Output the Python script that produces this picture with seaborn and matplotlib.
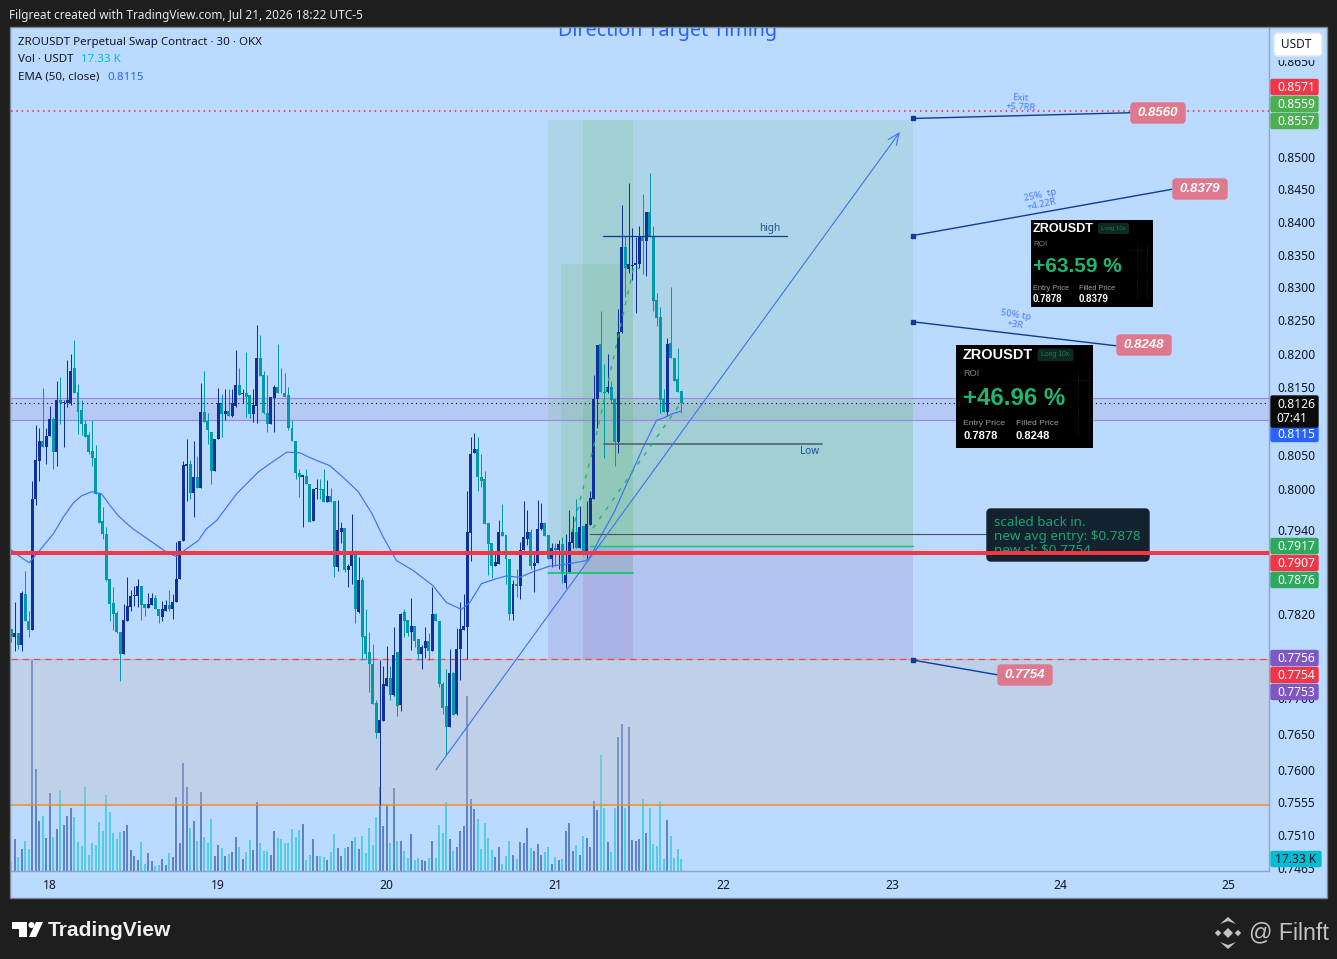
#Import libraries
import numpy as np
import pandas as pd
import matplotlib
matplotlib.use("Agg")
import matplotlib.pyplot as plt
import seaborn as sns
from matplotlib.patches import Rectangle, FancyBboxPatch, Polygon, Circle

#Candles, 30 min bars. Bar 0 is the start of day 18.
opens = [
    .7798,.7787,.7792,.7776,.7848,.7810,.7797,.7985,.8041,.8071,
    .8062,.8078,.8103,.8054,.8131,.8127,.8126,.8126,.8178,.8143,
    .8116,.8096,.8079,.8055,.8046,.7994,.7953,.7935,.7870,.7835,
    .7821,.7794,.7762,.7810,.7830,.7845,.7845,.7859,.7834,.7828,
    .7833,.7842,.7827,.7815,.7824,.7832,.7826,.7836,.7869,.7924,
    .8033,.8037,.7994,.8017,.8001,.8113,.8100,.8083,.8027,.8074,
    .8126,.8110,.8115,.8107,.8122,.8153,.8140,.8142,.8139,.8110,
    .8122,.8193,.8169,.8112,.8096,.8134,.8151,.8142,.8141,.8138,
    .8090,.8071,.8024,.8018,.8019,.8008,.7954,.8000,.8000,.8000,
    .7981,.7990,.7982,.7887,.7938,.7943,.7882,.7888,.7905,.7823,
    .7868,.7788,.7765,.7748,.7693,.7651,.7668,.7718,.7729,.7704,
    .7765,.7691,.7822,.7811,.7794,.7803,.7784,.7763,.7771,.7781,
    .7767,.7819,.7810,.7720,.7689,.7660,.7736,.7678,.7769,.7797,
    .7801,.7936,.8053,.8058,.8018,.8014,.7950,.7921,.7889,.7891,
    .7938,.7933,.7899,.7819,.7863,.7859,.7911,.7928,.7938,.7889,
    .7892,.7942,.7950,.7933,.7899,.7914,.7912,.7920,.7864,.7879,
    .7921,.7938,.7914,.7946,.7904,.7948,.7986,.8132,.8215,.8143,
    .8143,.8150,.8132,.8069,.8232,.8361,.8328,.8333,.8334,.8336,
    .8376,.8371,.8415,.8376,.8281,.8256,.8132,.8114,.8216,.8193,
    .8162,.8144]
highs = [
    .7798,.7837,.7792,.7852,.7881,.7824,.8011,.8094,.8089,.8149,
    .8089,.8122,.8106,.8159,.8165,.8131,.8190,.8199,.8220,.8155,
    .8131,.8101,.8084,.8102,.8064,.7994,.7974,.7945,.7870,.7858,
    .7824,.7794,.7834,.7872,.7854,.7860,.7870,.7859,.7834,.7850,
    .7850,.7846,.7827,.7838,.7840,.7854,.7848,.7923,.7925,.8041,
    .8073,.8042,.8071,.8049,.8157,.8175,.8112,.8083,.8074,.8149,
    .8140,.8148,.8148,.8148,.8205,.8178,.8148,.8202,.8139,.8147,
    .8243,.8228,.8175,.8169,.8135,.8154,.8214,.8178,.8172,.8150,
    .8101,.8071,.8029,.8021,.8029,.8008,.8000,.8014,.8015,.8030,
    .8013,.8001,.7982,.7984,.7952,.7943,.7891,.7964,.7912,.7902,
    .7873,.7827,.7794,.7777,.7698,.7754,.7746,.7774,.7746,.7801,
    .7765,.7821,.7827,.7811,.7842,.7803,.7784,.7775,.7801,.7793,
    .7858,.7821,.7810,.7723,.7741,.7769,.7737,.7800,.7837,.7848,
    .7997,.8076,.8082,.8076,.8052,.8027,.7950,.7921,.7907,.7955,
    .7978,.7933,.7899,.7868,.7884,.7923,.7982,.7970,.7942,.7906,
    .7984,.7979,.7952,.7933,.7921,.7921,.7926,.7930,.7935,.7969,
    .7960,.7986,.7975,.7946,.7982,.7997,.8169,.8213,.8265,.8185,
    .8199,.8159,.8132,.8268,.8426,.8379,.8460,.8390,.8376,.8393,
    .8442,.8415,.8475,.8394,.8291,.8271,.8147,.8223,.8300,.8193,
    .8208,.8144]
lows = [
    .7779,.7767,.7770,.7767,.7810,.7787,.7797,.7977,.8012,.8062,
    .8037,.8078,.8030,.8033,.8096,.8062,.8121,.8123,.8142,.8081,
    .8079,.8077,.8052,.8033,.7992,.7950,.7928,.7867,.7809,.7796,
    .7793,.7725,.7762,.7810,.7824,.7831,.7829,.7811,.7817,.7828,
    .7833,.7826,.7806,.7810,.7824,.7824,.7813,.7836,.7869,.7924,
    .7983,.7986,.7959,.8001,.8001,.8098,.8066,.8008,.8027,.8073,
    .8077,.8101,.8107,.8106,.8121,.8139,.8126,.8106,.8104,.8099,
    .8097,.8167,.8111,.8083,.8096,.8083,.8142,.8141,.8136,.8086,
    .8070,.8014,.7988,.7945,.8007,.7952,.7954,.7985,.7986,.7981,
    .7981,.7981,.7872,.7881,.7921,.7880,.7858,.7863,.7806,.7821,
    .7754,.7755,.7709,.7692,.7644,.7552,.7668,.7718,.7698,.7703,
    .7675,.7682,.7786,.7788,.7768,.7772,.7754,.7741,.7757,.7754,
    .7767,.7809,.7716,.7678,.7621,.7660,.7677,.7677,.7726,.7797,
    .7756,.7896,.8053,.7997,.8003,.7949,.7875,.7871,.7889,.7891,
    .7932,.7863,.7811,.7811,.7844,.7841,.7911,.7918,.7884,.7851,
    .7892,.7941,.7931,.7899,.7887,.7888,.7884,.7864,.7856,.7878,
    .7914,.7914,.7914,.7904,.7897,.7948,.7986,.8090,.8143,.8046,
    .8142,.8126,.8034,.8053,.8231,.8285,.8322,.8311,.8262,.8330,
    .8321,.8317,.8376,.8265,.8241,.8112,.8114,.8108,.8194,.8160,
    .8143,.8112]
closes = [
    .7787,.7792,.7776,.7850,.7810,.7797,.7986,.8043,.8071,.8062,
    .8078,.8103,.8054,.8131,.8126,.8128,.8131,.8175,.8142,.8114,
    .8095,.8077,.8054,.8045,.7992,.7950,.7934,.7868,.7834,.7820,
    .7794,.7762,.7811,.7831,.7845,.7846,.7859,.7832,.7828,.7834,
    .7842,.7826,.7816,.7827,.7832,.7826,.7837,.7870,.7925,.8035,
    .8037,.7994,.8018,.8001,.8113,.8098,.8086,.8027,.8074,.8126,
    .8110,.8115,.8107,.8126,.8153,.8139,.8142,.8136,.8110,.8123,
    .8193,.8167,.8112,.8096,.8135,.8151,.8142,.8141,.8136,.8089,
    .8070,.8023,.8017,.8020,.8007,.7952,.8000,.8001,.7998,.7981,
    .7990,.7981,.7887,.7940,.7943,.7882,.7889,.7905,.7826,.7868,
    .7786,.7763,.7749,.7692,.7651,.7670,.7720,.7728,.7704,.7761,
    .7689,.7819,.7809,.7793,.7803,.7781,.7763,.7772,.7781,.7767,
    .7819,.7809,.7720,.7687,.7660,.7736,.7677,.7770,.7798,.7803,
    .7938,.8052,.8058,.8017,.8011,.7949,.7920,.7889,.7894,.7938,
    .7932,.7899,.7819,.7863,.7859,.7912,.7930,.7938,.7889,.7893,
    .7942,.7950,.7931,.7899,.7914,.7912,.7920,.7877,.7875,.7923,
    .7938,.7914,.7945,.7904,.7949,.7987,.8132,.8213,.8143,.8142,
    .8150,.8131,.8069,.8232,.8361,.8330,.8336,.8334,.8337,.8376,
    .8371,.8415,.8376,.8279,.8253,.8131,.8114,.8215,.8194,.8160,
    .8143,.8126]
#Volume in thousands of USDT
volumes = [
    13.0,46.2,20.2,31.8,43.3,31.8,306,147.3,72.2,79.4,47.7,112.7,49.1,60.7,117,66.4,
    79.4,91,78,41.9,36.1,121.3,23.1,40.4,37.6,70.8,57.8,109.8,85.2,54.9,46.2,56.3,
    57.8,66.4,30.3,21.7,15.9,41.9,10.1,26,14.4,7.2,8.7,17.3,8.7,26,20.2,106.9,
    40.4,156,121.3,62.1,72.2,43.3,114.1,49.1,40.4,75.1,21.7,37.6,33.2,21.7,24.6,27.4,
    49.1,34.7,17.3,27.4,44.8,30.3,99.7,40.4,28.9,28.9,23.1,57.8,47.7,46.2,40.4,40.4,
    60.7,49.1,59.2,67.9,15.9,23.1,46.2,21.7,21.7,20.2,15.9,27.4,53.4,33.2,21.7,33.2,
    34.7,43.3,49.1,31.8,50.6,26,62.1,37.6,78,121.3,65,95.3,40.4,119.9,43.3,43.3,
    28.9,18.8,53.4,15.9,18.8,15.9,14.4,18.8,43.3,18.8,66.4,54.9,99.7,46.2,28.9,34.7,
    57.8,65,252.8,104,89.6,75.1,31.8,69.3,47.7,30.3,20.2,34.7,10.1,21.7,43.3,23.1,
    17.3,41.9,40.4,62.1,33.2,28.9,39,23.1,27.4,34.7,10.1,20.2,15.9,17.3,57.8,69.3,
    28.9,37.6,23.1,50.6,47.7,34.7,101.1,88.1,167.6,91,41.9,27.4,91,193.6,212.3,91,
    208,44.8,43.3,46.2,104,54.9,91,39,36.1,101.1,17.3,73.7,50.6,18.8,31.8,17.33]

#EMA 50, read at a handful of places along the curve
ema_bars = [-11.4,-8.6,-5.9,-2.9,1,3.8,6.7,9,11.9,14.7,17,19.5,21.4,23.7,28.5,33.3,36,38.9,42.3,44.6,47.5,
            53.2,59.4,62.7,67.5,71.3,74.1,79.8,83.6,87.9,91.7,95,98.8,103.5,109.2,113,
            117.3,119.7,123,127.2,130.1,133.9,137.7,142.4,147.2,152.9,154.3,156.7,161,
            164.8,169,172.9,174.7,177.2,180]
ema_vals = [.7913,.7902,.7893,.7911,.7935,.7959,.7980,.7990,.7996,.7993,.7977,.7961,.7952,.7942,.7925,.7908,.7902,
            .7913,.7925,.7942,.7954,.7993,.8025,.8037,.8054,.8053,.8046,.8034,.8017,.7996,
            .7965,.7930,.7896,.7882,.7860,.7836,.7826,.7836,.7863,.7870,.7874,.7872,.7880,
            .7888,.7891,.7896,.7904,.7928,.7968,.8012,.8060,.8101,.8104,.8110,.8115]

#Price axis and day axis
price_ticks = [.8650,.8500,.8450,.8400,.8350,.8300,.8250,.8200,.8150,.8050,.8000,.7940,
               .7820,.7700,.7650,.7600,.7555,.7510,.7465]
day_labels = ["18","19","20","21","22","23","24","25"]
bars_per_day = 48

#Levels drawn on the chart
band_top, band_bottom = .8134, .8101
last_price = .8126
dotted_red = .8571
red_level = .7907
stop_level = .7755
lower_zone_floor = .7552
target_exit, target_25, target_50, stop_px = .8560, .8379, .8248, .7754

#Position boxes: first bar, last bar, top, entry, stop
wide_box = (142, 246, .8557, .7917, .7755)
inner_box = (151.9, 166.2, .8557, .7917, .7755)
late_box = (145.7, 166.2, .8336, .7878)

sns.set_theme(style="white")
plt.rcParams["font.family"] = ["Noto Sans", "DejaVu Sans"]

BG = "#bbdaff"
DARK = "#1e1e1e"
UP = "#0e319e"
DOWN = "#009aaa"
EMA = "#3f72f5"
INK = "#131722"

df = pd.DataFrame({"o": opens, "h": highs, "l": lows, "c": closes, "vol": volumes})
df["bar"] = np.arange(len(df)) - 11
df["dir"] = np.where(df["c"] >= df["o"], "up", "down")

fig = plt.figure(figsize=(13.37, 9.59), dpi=100, facecolor=DARK)

#Back layer with the panel, in pixels
back = fig.add_axes([0, 0, 1, 1], zorder=0)
back.set_xlim(0, 1337)
back.set_ylim(959, 0)
back.axis("off")
back.add_patch(Rectangle((10, 27), 1317, 871, facecolor=BG, edgecolor="#7b8794", lw=1))

box = [11 / 1337, 1 - 871 / 959, 1258 / 1337, 843 / 959]
xlim = (-11.1, 347.5)
ylim = (.7461, .87026)

#Volume sits under the candles on its own scale
ax_vol = fig.add_axes(box, zorder=1)
ax_vol.patch.set_visible(False)
sns.barplot(data=df, x="bar", y="vol", hue="dir", hue_order=["up", "down"],
            palette={"up": "#5f82cb", "down": "#54cbe8"}, native_scale=True, dodge=False,
            width=.57, saturation=1, errorbar=None, legend=False, linewidth=0, ax=ax_vol)
for patch in ax_vol.patches:
    patch.set_antialiased(False)
ax_vol.set_xlim(*xlim)
ax_vol.set_ylim(0, 1217)
ax_vol.axis("off")

ax = fig.add_axes(box, zorder=2)
ax.patch.set_visible(False)
ax.set_yscale("log")

#Zones and levels
ax.axhspan(lower_zone_floor, stop_level, color="#c5bfb7", alpha=.3, lw=0, zorder=1)
ax.axhspan(band_bottom, band_top, color="#8e6cbc", alpha=.14, lw=0, zorder=1)
for b in (wide_box, inner_box):
    ax.fill_between([b[0], b[1]], b[3], b[2], color="#75bc8a", alpha=.2, lw=0, zorder=1)
    ax.fill_between([b[0], b[1]], b[4], b[3], color="#8e6cbc", alpha=.2, lw=0, zorder=1)
ax.fill_between([late_box[0], late_box[1]], late_box[3], late_box[2], color="#75bc8a", alpha=.2, lw=0, zorder=1)
ax.fill_between([151.9, 246], wide_box[3], last_price, color="#75bc8a", alpha=.2, lw=0, zorder=1)

for lvl in (band_top, band_bottom):
    ax.axhline(lvl, color="#9b86dc", lw=.8, zorder=2, snap=True)
ax.axhline(lower_zone_floor, color="#f58a1f", lw=1.1, zorder=2, snap=True)
ax.axhline(stop_level, color="#d8a878", lw=.8, zorder=2, snap=True)
ax.axhline(stop_level, color="#e8475c", lw=.9, ls=(0, (5, 4)), zorder=2, snap=True)
ax.axhline(dotted_red, color="#ff1f35", lw=1.1, ls=(0, (1, 2.5)), zorder=2, snap=True)
ax.axhline(last_price, color="#111111", lw=.8, ls=(0, (1, 3)), zorder=6, snap=True)
ax.axhline(red_level, color="#f23645", lw=2.9, zorder=8, snap=True)

#Candles
wicks = ax.vlines(df["bar"], df["l"], df["h"], colors=df["dir"].map({"up": UP, "down": DOWN}), lw=.72, zorder=4)
wicks.set_snap(True)
body_low = df[["o", "c"]].min(axis=1)
body_high = df[["o", "c"]].max(axis=1)
ax.bar(df["bar"], body_high - body_low, bottom=body_low, width=.85, lw=0, antialiased=False,
       color=df["dir"].map({"up": UP, "down": DOWN}), zorder=5)

#EMA
sns.lineplot(x=ema_bars, y=ema_vals, color=EMA, lw=.85, sort=False, errorbar=None, ax=ax, zorder=6)

#Drawn tools
ax.plot([157.6, 210], [.8379, .8379], color="#0e3a9e", lw=.9, zorder=6)
ax.plot([158, 220], [.8066, .8066], color="#5a6470", lw=1.2, zorder=6)
ax.plot([154, 267], [.7935, .7935], color="#4a5058", lw=.8, zorder=6)
ax.plot([154, 246], [.7917, .7917], color="#12c765", lw=1, zorder=6)
ax.plot([142, 166.2], [.7878, .7878], color="#00c853", lw=1.1, zorder=6)
ax.plot([148.8, 155.4, 166.5, 168.2], [.7937, .8071, .8333, .8328], color="#1fb573", lw=1,
        ls=(0, (3, 5)), zorder=6)
ax.plot([154.8, 179.6], [.7943, .8125], color="#1fb573", lw=1, ls=(0, (3, 5)), zorder=6)
ax.annotate("", xy=(242.3, .8539), xytext=(110, .7600), zorder=6,
            arrowprops=dict(arrowstyle="->,head_length=.7,head_width=.3", color=EMA, lw=.8, shrinkA=0, shrinkB=0))

#Leader lines from the targets to their tags
leaders = [(target_exit, 307.9, .8569), (target_25, 319.8, .8450), (target_50, 303.9, .8212), (stop_px, 270.2, .7733)]
for price, end_bar, end_price in leaders:
    ax.plot([246, end_bar], [price, end_price], color="#123a9c", lw=1, zorder=6)
    ax.plot([246], [price], marker="s", ms=2.6, color="#123a9c", zorder=7)

ax.set_xlim(*xlim)
ax.set_ylim(*ylim)
ax.set_xlabel("")
ax.set_ylabel("")
ax.set_xticks([bars_per_day * k for k in range(len(day_labels))], day_labels)
ax.yaxis.tick_right()
ax.set_yticks(price_ticks, [f"{t:.4f}" for t in price_ticks])
ax.minorticks_off()
ax.tick_params(axis="y", length=0, pad=6.2, labelsize=8.7, colors=INK)
ax.tick_params(axis="x", length=0, pad=6, labelsize=8.7, colors=INK)
for side in ("top", "left"):
    ax.spines[side].set_visible(False)
for side in ("right", "bottom"):
    ax.spines[side].set_color("#8ea6c4")
    ax.spines[side].set_linewidth(1)

#Front layer for text and tags, in pixels
top = fig.add_axes([0, 0, 1, 1], zorder=5)
top.set_xlim(0, 1337)
top.set_ylim(959, 0)
top.axis("off")
top.patch.set_visible(False)
px = top.transData

def tag(y, text, color, ink="white", right=1319):
    top.add_patch(FancyBboxPatch((1271, y - 7.5), right - 1272, 15, boxstyle="round,pad=0,rounding_size=1.5",
                                 facecolor=color, edgecolor=color, lw=1))
    top.text(1296, y + .7, text, ha="center", va="center", color=ink, fontsize=8.7)

for y, text, color in [(87, "0.8571", "#f23645"), (104, "0.8559", "#4caf50"), (121, "0.8557", "#4caf50"),
                       (434, "0.8115", "#2962ff"), (546, "0.7917", "#2ea85f"), (563, "0.7907", "#f23645"),
                       (580, "0.7876", "#2ea85f"), (658, "0.7756", "#7e57c2"), (675, "0.7754", "#f23645"),
                       (692, "0.7753", "#7e57c2")]:
    tag(y, text, color)
top.add_patch(FancyBboxPatch((1271, 396), 47, 31, boxstyle="round,pad=0,rounding_size=1.5", facecolor="#0b0b0b",
                             edgecolor="#0b0b0b", lw=1))
top.text(1296, 405, "0.8126", ha="center", va="center", color="white", fontsize=8.7)
top.text(1292, 419, "07:41", ha="center", va="center", color="white", fontsize=8.7)
tag(859, "17.33 K", "#00bcd4", ink=INK, right=1322)

#USDT button, it also hides the top of the first tick label
top.add_patch(Rectangle((1272, 50), 53, 10, facecolor=BG, lw=0))
top.add_patch(FancyBboxPatch((1274, 33), 48, 23, boxstyle="round,pad=0,rounding_size=4", facecolor="white",
                             edgecolor="#dfe6f0", lw=1))
top.text(1296, 45, "USDT", ha="center", va="center", color=INK, fontsize=8.5)

#Header, legend and clipped title
top.text(9, 16, "Filgreat created with TradingView.com, Jul 21, 2026 18:22 UTC-5", color="#e8e8e8",
         fontsize=8.5, va="center", fontweight="medium")
title = top.text(668, 31, "Direction Target Timing", color="#2962ff", fontsize=14.2, fontweight="bold",
                 ha="center", va="center")
title.set_clip_path(Rectangle((10, 28), 1317, 30, transform=px))
title.set_clip_on(True)
top.text(18, 43, "ZROUSDT Perpetual Swap Contract · 30 · OKX", color=INK, fontsize=8.3, va="center")
top.text(18, 60, "Vol · USDT", color=INK, fontsize=8.3, va="center")
top.text(81, 60, "17.33 K", color="#00bcd4", fontsize=8.3, va="center")
top.text(18, 77, "EMA (50, close)", color=INK, fontsize=8.3, va="center")
top.text(107, 77, "0.8115", color="#2962ff", fontsize=8.3, va="center")

#Pink target tags
for x0, y0, w, text in [(1130, 102, 56, "0.8560"), (1172, 178, 56, "0.8379"), (1116, 334, 56, "0.8248"), (997, 664, 56, "0.7754")]:
    top.add_patch(FancyBboxPatch((x0 + 1, y0 + 1), w - 2, 20, boxstyle="round,pad=0,rounding_size=3", facecolor="#de788c",
                                 edgecolor="#de788c", lw=1))
    top.text(x0 + w / 2, y0 + 11, text, color="white", fontsize=9.5, fontweight="bold", style="italic",
             ha="center", va="center", family="Liberation Sans")

#Small notes next to the targets
for x, y, text, angle, size in [(1020, 98, "Exit", -3, 6.8), (1021, 107, "+5.7RR", -3, 6.8),
                                (1040, 195, "25%  tp", 12, 6.8), (1042, 204, "+4.22R", 12, 6.8),
                                (1016, 315, "50% tp", -9, 6.8), (1015, 325, "+3R", -9, 6.8)]:
    top.text(x, y, text, color="#4a7dff", fontsize=size, rotation=angle, ha="center", va="center")
top.text(770, 228, "high", color="#1f4f9e", fontsize=7.2, ha="center", va="center")
top.text(810, 451, "Low", color="#1f4f9e", fontsize=7.2, ha="center", va="center")

#Result cards
def card(x0, y0, w, h, roi, filled, scale, inset):
    tx = x0 + inset
    top.add_patch(Rectangle((x0, y0), w, h, facecolor="black", lw=0))
    sans = "Liberation Sans"
    top.text(tx, y0 + 8 * scale + 1, "ZROUSDT", color="white", fontsize=9.1 * scale, fontweight="bold", family=sans, va="center")
    top.add_patch(FancyBboxPatch((tx + 65 * scale, y0 + 3 * scale), 31 * scale, 11 * scale, boxstyle="round,pad=0,rounding_size=2",
                                 facecolor="#0e2a22", lw=0))
    top.text(tx + 80.5 * scale, y0 + 8.5 * scale, "Long 10x", color="#1c7a5c", fontsize=4.3 * scale, family=sans, ha="center", va="center")
    top.text(tx, y0 + 25 * scale, "ROI", color="#808080", fontsize=5.8 * scale, family=sans, va="center")
    top.text(tx, y0 + 45 * scale + 2, roi, color="#1fb573", fontsize=15 * scale, fontweight="bold", family=sans, va="center")
    top.text(tx, y0 + 67 * scale + 1, "Entry Price", color="#a0a0a0", fontsize=5.3 * scale, family=sans, va="center")
    top.text(tx + 46 * scale, y0 + 67 * scale + 1, "Filled Price", color="#a0a0a0", fontsize=5.3 * scale, family=sans, va="center")
    top.text(tx, y0 + 79 * scale + .5, "0.7878", color="white", fontsize=7 * scale, fontweight="bold", family=sans, va="center")
    top.text(tx + 46 * scale, y0 + 79 * scale + .5, filled, color="white", fontsize=7 * scale, fontweight="bold", family=sans, va="center")
    top.plot([x0 + 106 * scale] * 2, [y0 + 22 * scale, y0 + 78 * scale], color="#1b2a22", lw=.6, ls=":")
    top.plot([x0 + 116 * scale] * 2, [y0 + 22 * scale, y0 + 78 * scale], color="#1b2a22", lw=.6, ls=":")
    top.plot([x0 + 100 * scale, x0 + 118 * scale], [y0 + 30 * scale] * 2, color="#1b2a22", lw=.6, ls=":")

card(1031, 220, 122, 87, "+63.59 %", "0.8379", 1, 2)
card(956, 345, 137, 103, "+46.96 %", "0.8248", 1.15, 7)

#Scale-in note sits under the red level, so it goes in the main axes
ax.add_patch(FancyBboxPatch((987, 509), 162, 52, boxstyle="round,pad=0,rounding_size=4", facecolor="#14212e",
                            edgecolor="#14212e", transform=px, clip_on=False, zorder=7))
for y, text in [(522.5, "scaled back in."), (536.5, "new avg entry: $0.7878"), (550.5, "new sl: $0.7754")]:
    note = ax.text(994, y, text, color="#17a673", fontsize=9.7, va="center", transform=px, zorder=7.5, clip_on=False)
    if y == 550.5:
        note.set_clip_path(Rectangle((986, 508), 164, 44, transform=px))
        note.set_clip_on(True)

#Footer marks
top.add_patch(Polygon([(12, 922), (27, 922), (27, 937), (19, 937), (19, 929), (12, 929)], facecolor="white", lw=0))
top.add_patch(Circle((31.5, 925), 3, facecolor="white", lw=0))
top.add_patch(Polygon([(36, 922), (43, 922), (36, 937), (29, 937)], facecolor="white", lw=0))
top.text(48, 930.5, "TradingView", color="#f0f0f0", fontsize=15.1, fontweight="bold", va="center", family="Liberation Sans")
top.text(1249, 933, "@ Filnft", color="#c4c4c4", fontsize=16.7, va="center", family="Liberation Sans")
diamond = [(0, -1), (1, 0), (0, 1), (-1, 0)]
for cx, cy, r in [(1228, 933, 5), (1218, 933, 3.2), (1238, 933, 3.2)]:
    top.add_patch(Polygon([(cx + r * a, cy + r * b) for a, b in diamond], facecolor="#c4c4c4", lw=0))
for cy, sign in [(922, -1), (944, 1)]:
    top.add_patch(Polygon([(1220, cy - sign * 2), (1228, cy + sign * 5), (1236, cy - sign * 2), (1228, cy + sign * 1)], facecolor="#c4c4c4", lw=0))

plt.savefig("out.png", dpi=100, facecolor=DARK)
print("File Saved")
